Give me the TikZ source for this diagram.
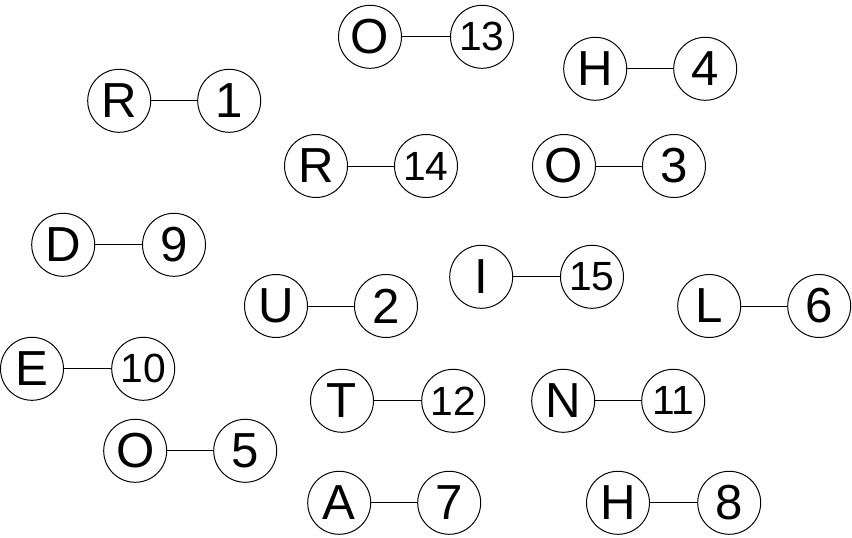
\documentclass[tikz,border=0pt]{standalone}
\usepackage{fontspec}
\setmainfont{Liberation Sans}
\usetikzlibrary{positioning}

\tikzset{
  vtx/.style={draw, circle, line width=0.7pt, minimum size=1.575cm, inner sep=0pt,
              font=\fontsize{35}{35}\selectfont},
  vtxs/.style={vtx, font=\fontsize{29}{29}\selectfont},
  edg/.style={line width=0.7pt}
}

\begin{document}
\begin{tikzpicture}
            \useasboundingbox (0,0) rectangle (21.3,13.45);

            \draw (9.25,12.53) node[vtx]                  (o13) {O};
            \draw (12.05,12.53) node[vtxs]                (n13) {13};
            \draw (14.88,11.73) node[vtx]                 (h4) {H};
            \draw (17.63,11.73) node[vtx]                 (n4) {4};
            \draw (2.98,10.93) node[vtx]                  (r1) {R};
            \draw (5.73,10.93) node[vtx]                  (n1) {1};
            \draw (7.90,9.30) node[vtx]                   (r14) {R};
            \draw (10.65,9.30) node[vtxs]                 (n14) {14};
            \draw (14.10,9.30) node[vtx]                  (o3) {O};
            \draw (16.85,9.30) node[vtx]                  (n3) {3};
            \draw (1.58,7.33) node[vtx]                   (d9) {D};
            \draw (4.35,7.33) node[vtx]                   (n9) {9};
            \draw (12.03,6.53) node[vtx]                  (i15) {I};
            \draw (14.80,6.53) node[vtxs]                 (n15) {15};
            \draw (6.90,5.80) node[vtx]                   (u2) {U};
            \draw (9.65,5.80) node[vtx]                   (n2) {2};
            \draw (17.73,5.80) node[vtx]                  (l6) {L};
            \draw (20.48,5.80) node[vtx]                  (n6) {6};
            \draw (0.80,4.23) node[vtx]                   (e10) {E};
            \draw (3.58,4.23) node[vtxs]                  (n10) {10};
            \draw (8.55,3.43) node[vtx]                   (t12) {T};
            \draw (11.33,3.43) node[vtxs]                 (n12) {12};
            \draw (14.08,3.43) node[vtx]                  (n11l) {N};
            \draw (16.83,3.43) node[vtxs]                 (n11) {11};
            \draw (3.38,2.18) node[vtx]                   (o5) {O};
            \draw (6.13,2.18) node[vtx]                   (n5) {5};
            \draw (8.48,0.88) node[vtx]                   (a7) {A};
            \draw (11.23,0.88) node[vtx]                  (n7) {7};
            \draw (15.45,0.88) node[vtx]                  (h8) {H};
            \draw (18.23,0.88) node[vtx]                  (n8) {8};

            \draw[edg] (o13) -- (n13);
            \draw[edg] (h4) -- (n4);
            \draw[edg] (r1) -- (n1);
            \draw[edg] (r14) -- (n14);
            \draw[edg] (o3) -- (n3);
            \draw[edg] (d9) -- (n9);
            \draw[edg] (i15) -- (n15);
            \draw[edg] (u2) -- (n2);
            \draw[edg] (l6) -- (n6);
            \draw[edg] (e10) -- (n10);
            \draw[edg] (t12) -- (n12);
            \draw[edg] (n11l) -- (n11);
            \draw[edg] (o5) -- (n5);
            \draw[edg] (a7) -- (n7);
            \draw[edg] (h8) -- (n8);

            \end{tikzpicture}
\end{document}
